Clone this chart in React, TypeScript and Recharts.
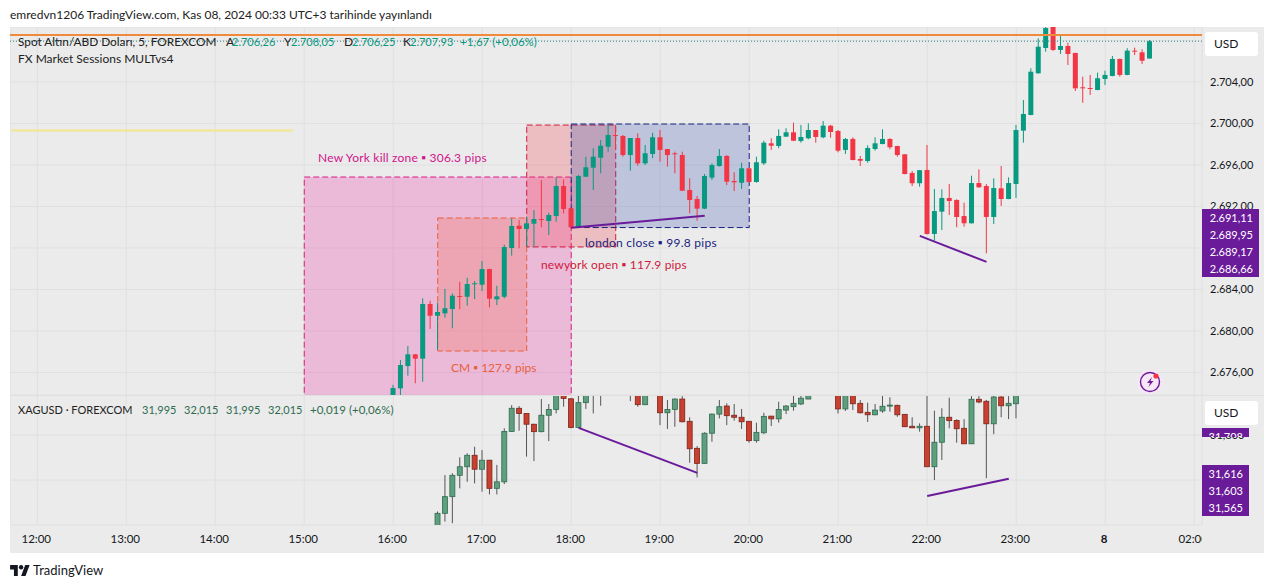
import { ComposedChart, Bar, XAxis, YAxis, CartesianGrid, ReferenceArea, ReferenceLine } from 'recharts'

// one slot per 5 minute bar, 11:45 to 01:00
const startSlot = 11 * 60 + 45
const slotCount = 160
const categories = Array.from({ length: slotCount }, (_, i) => {
  const m = (startSlot + i * 5) % 1440
  return String(Math.floor(m / 60)).padStart(2, '0') + ':' + String(m % 60).padStart(2, '0')
})
const hourTicks = ['12:00', '13:00', '14:00', '15:00', '16:00', '17:00', '18:00', '19:00', '20:00', '21:00', '22:00', '23:00', '00:00', '01:00']
const hourLabels = ['12:00', '13:00', '14:00', '15:00', '16:00', '17:00', '18:00', '19:00', '20:00', '21:00', '22:00', '23:00', '8', '02:00']
const goldTicks = [2676, 2680, 2684, 2688, 2692, 2696, 2700, 2704, 2708]
const goldTickLabels = [2676, 2680, 2684, 2692, 2696, 2700, 2704]
const silverTicks = [31.6, 31.8]
const silverTickLabels = [31.8]

// gold bars start at 16:00, one row per 5 minutes: open, high, low, close
const goldStart = '16:00'
const goldOpen = [2673.7, 2674.47, 2676.62, 2677.75, 2677.33, 2682.6, 2681.47, 2681.7, 2682.12, 2683.37, 2683.3, 2684.5, 2684.46, 2685.97, 2683.05, 2683.3, 2688, 2690.15, 2689.83, 2690.34, 2690.79, 2690.6, 2691.08, 2693.97, 2691.83, 2690.05, 2694.87, 2695.74, 2696.7, 2697.76, 2698.89, 2698.8, 2696.96, 2698.6, 2696.16, 2697.06, 2698.67, 2697.54, 2697.13, 2696.96, 2693.59, 2692.72, 2691.79, 2694.78, 2695.9, 2696.87, 2694.46, 2694.29, 2695.68, 2694.36, 2696.16, 2698.09, 2697.83, 2698.73, 2699.15, 2698.31, 2698.57, 2699.37, 2698.67, 2699.79, 2699.28, 2697.45, 2698.51, 2696.58, 2696.38, 2697.54, 2698.02, 2698.51, 2697.83, 2697.03, 2695.23, 2694.24, 2695.52, 2689.35, 2691.5, 2692.82, 2692.63, 2691.08, 2690.38, 2694.26, 2693.97, 2690.99, 2693.75, 2692.72, 2694.17, 2699.31, 2700.82, 2704.84, 2707.28, 2709.5, 2707.09, 2707.47, 2706.8, 2703.49, 2703.42, 2703.23, 2704.29, 2704.58, 2706.22, 2704.68, 2707.02, 2706.86, 2706.26]
const goldHigh = [2674.8, 2677.2, 2678.55, 2677.78, 2683.15, 2682.92, 2682.73, 2684.05, 2683.63, 2684.75, 2685.13, 2684.82, 2686.74, 2686, 2684.36, 2688.32, 2690.86, 2690.7, 2691.02, 2691.66, 2694.55, 2691.4, 2694.81, 2694.62, 2691.9, 2695.04, 2696.8, 2697.61, 2698.41, 2699.86, 2699.86, 2698.89, 2698.6, 2699.06, 2697.93, 2699.11, 2699.37, 2697.54, 2697.28, 2697.28, 2694.72, 2693.01, 2695.13, 2696.16, 2697.54, 2696.96, 2695.3, 2696.22, 2695.7, 2696.8, 2698.34, 2698.57, 2699.44, 2699.54, 2700.08, 2699.86, 2700.02, 2699.37, 2700.24, 2699.86, 2699.37, 2698.6, 2698.67, 2696.87, 2697.9, 2698.67, 2699.44, 2698.57, 2697.85, 2697.03, 2695.42, 2695.52, 2697.93, 2693.69, 2693.66, 2694.17, 2692.69, 2692.37, 2694.97, 2695.58, 2694.17, 2694.72, 2695.9, 2694.81, 2699.86, 2702.27, 2705.32, 2708.21, 2709.6, 2709.9, 2708.6, 2707.79, 2706.8, 2704.51, 2704.68, 2704.9, 2705.09, 2706.51, 2706.25, 2707.25, 2707.31, 2707.15, 2708.05]
const goldLow = [2673.4, 2673.6, 2675.69, 2674.96, 2675.11, 2680.19, 2678.17, 2681.28, 2680.26, 2682.09, 2682.44, 2683.08, 2683.85, 2682.28, 2682.5, 2683.15, 2687.26, 2687.97, 2688.12, 2688.12, 2690, 2689.25, 2690.53, 2691.34, 2689.83, 2690, 2694.84, 2693.59, 2695.2, 2697.28, 2697.45, 2696.8, 2695.45, 2695.93, 2696, 2696.65, 2696.32, 2695.84, 2695.2, 2693.49, 2691.34, 2690.63, 2691.75, 2694.55, 2695.84, 2694.07, 2693.49, 2693.69, 2694.3, 2694.29, 2696, 2697.45, 2697.61, 2698.73, 2698.3, 2698.15, 2698.48, 2698.15, 2698.57, 2698.63, 2697.22, 2697.06, 2696.45, 2695.9, 2696.22, 2697.38, 2698, 2697.51, 2696.8, 2695.1, 2693.97, 2693.91, 2689.3, 2688.7, 2689.73, 2691.18, 2690, 2690.05, 2690.35, 2693.8, 2687.49, 2690.31, 2692.05, 2692.7, 2692.82, 2698.15, 2700.8, 2704.8, 2706.92, 2706.99, 2706.7, 2705.64, 2703.13, 2702, 2702.75, 2703.2, 2703.71, 2704.55, 2704.51, 2704.65, 2706.6, 2705.74, 2706.25]
const goldClose = [2674.5, 2676.72, 2677.75, 2677.33, 2682.6, 2681.47, 2681.83, 2682.19, 2683.4, 2683.3, 2684.53, 2684.6, 2685.97, 2683.11, 2683.34, 2688.09, 2690.12, 2689.83, 2690.38, 2690.79, 2690.73, 2691.18, 2693.97, 2691.76, 2690, 2694.94, 2695.78, 2696.8, 2697.86, 2698.89, 2698.82, 2696.96, 2698.6, 2696.16, 2697.13, 2698.67, 2697.45, 2696.96, 2697.06, 2693.52, 2692.63, 2691.79, 2694.94, 2696, 2696.87, 2694.39, 2694.33, 2695.68, 2694.36, 2696.26, 2698.15, 2697.86, 2698.8, 2699.15, 2698.34, 2698.7, 2699.37, 2698.7, 2699.79, 2699.18, 2697.38, 2698.51, 2696.48, 2696.41, 2697.64, 2698.09, 2698.51, 2697.71, 2696.96, 2695.13, 2694.24, 2695.5, 2689.35, 2691.56, 2692.82, 2692.53, 2690.99, 2690.38, 2694.26, 2693.85, 2690.99, 2693.78, 2692.72, 2694.26, 2699.37, 2700.92, 2704.99, 2707.4, 2709.2, 2707.09, 2707.47, 2706.7, 2703.39, 2703.39, 2703.33, 2704.36, 2704.68, 2706.22, 2704.68, 2707.02, 2706.96, 2706.05, 2707.93]

// silver bars start at 16:30; null where the bar sits above the pane
const silverStart = '16:30'
const silverOpen = [31.38, 31.452, 31.526, 31.621, 31.659, 31.71, 31.648, 31.688, 31.563, 31.592, 31.816, 31.919, 31.896, 31.848, 31.815, 31.888, 31.914, 31.982, 31.961, 31.834, 31.944, 31.99, 32, null, null, null, 32.03, 31.99, 31.935, null, 32, 31.899, 31.914, 31.96, 31.861, 31.741, 31.674, 31.808, 31.893, 31.929, 31.888, 31.879, 31.861, 31.775, 31.81, 31.884, 31.872, 31.911, 31.926, 31.938, 31.96, null, null, null, 32, 31.916, 32, 31.941, 31.901, 31.89, 31.907, 31.93, 31.932, 31.892, 31.839, 31.832, 31.839, 31.659, 31.768, 31.879, 31.865, 31.83, 31.761, 31.959, 31.95, 31.85, 31.969, 31.93, 31.939]
const silverHigh = [31.46, 31.622, 31.63, 31.701, 31.719, 31.748, 31.733, 31.69, 31.667, 31.83, 31.933, 31.929, 31.896, 31.85, 31.96, 31.938, 31.99, 31.99, 31.965, 31.99, 32, 32.07, 32.05, null, null, null, 32.1, 32, 32, null, 32.02, 31.956, 31.963, 31.973, 31.879, 31.751, 31.812, 31.896, 31.956, 31.941, 31.938, 31.916, 31.862, 31.855, 31.899, 31.885, 31.948, 31.933, 31.975, 31.98, 31.985, null, null, null, 32.02, 32.02, 32.02, 31.956, 31.944, 31.938, 31.975, 31.968, 31.935, 31.893, 31.879, 31.852, 31.975, 31.908, 31.919, 31.966, 31.87, 31.871, 31.973, 31.973, 31.956, 31.975, 31.973, 31.973, 31.99]
const silverLow = [31.35, 31.415, 31.408, 31.563, 31.592, 31.585, 31.548, 31.536, 31.536, 31.582, 31.815, 31.819, 31.704, 31.684, 31.812, 31.773, 31.896, 31.926, 31.83, 31.831, 31.916, 31.896, 31.93, null, null, null, 31.951, 31.926, 31.933, null, 31.844, 31.827, 31.837, 31.856, 31.677, 31.612, 31.674, 31.77, 31.874, 31.844, 31.864, 31.827, 31.766, 31.766, 31.804, 31.84, 31.855, 31.893, 31.908, 31.933, 31.96, null, null, null, 31.896, 31.907, 31.911, 31.896, 31.858, 31.888, 31.899, 31.904, 31.881, 31.836, 31.832, 31.815, 31.659, 31.6, 31.689, 31.83, 31.766, 31.76, 31.76, 31.941, 31.608, 31.804, 31.879, 31.871, 31.874]
const silverClose = [31.452, 31.526, 31.621, 31.659, 31.71, 31.648, 31.688, 31.563, 31.592, 31.816, 31.919, 31.896, 31.848, 31.815, 31.888, 31.914, 31.982, 31.963, 31.834, 31.944, 31.985, 32.04, 32.03, null, null, null, 32.06, 31.935, 31.99, null, 31.899, 31.914, 31.96, 31.859, 31.739, 31.674, 31.808, 31.893, 31.926, 31.886, 31.879, 31.859, 31.775, 31.812, 31.883, 31.872, 31.914, 31.929, 31.941, 31.964, 31.975, null, null, null, 31.916, 32, 31.939, 31.899, 31.89, 31.911, 31.928, 31.933, 31.89, 31.837, 31.832, 31.839, 31.659, 31.768, 31.879, 31.864, 31.828, 31.761, 31.959, 31.947, 31.85, 31.969, 31.93, 31.941, 31.98]

const goldTags = ['2.691,11', '2.689,95', '2.689,17', '2.686,66']
const silverTags = ['31,616', '31,603', '31,565']
const silverHiddenTag = '31,708'

const GOLD_UP = '#089981'
const GOLD_DOWN = '#f23645'
const SILVER_UP = '#5f9f7f'
const SILVER_DOWN = '#c8402f'
const SILVER_TEXT = '#2f6b4f'
const PURPLE = '#6a1b9a'
const PANE_BG = '#ebebeb'
const GRID = '#e0e0e0'
const FONT = 'Lato, "Open Sans", sans-serif'

function buildRows(start: string, open: (number | null)[], high: (number | null)[], low: (number | null)[], close: (number | null)[]) {
  const first = categories.indexOf(start)
  return categories.map((t, i) => {
    const k = i - first
    if (k < 0 || k >= open.length || open[k] == null) return { t, range: null, open: null, close: null, high: null, low: null }
    return { t, range: [low[k], high[k]], open: open[k], close: close[k], high: high[k], low: low[k] }
  })
}

const goldRows = buildRows(goldStart, goldOpen, goldHigh, goldLow, goldClose)
const silverRows = buildRows(silverStart, silverOpen, silverHigh, silverLow, silverClose)

function Candle(props: any) {
  const { x, y, width, height, payload, up, down, wick, border } = props
  if (!payload || payload.open == null || !height) return null
  const { open, close, high, low } = payload
  const perUnit = height / (high - low)
  const top = y + (high - Math.max(open, close)) * perUnit
  const bodyH = Math.max(Math.abs(open - close) * perUnit, 1)
  const isUp = close >= open
  const cx = x + width / 2
  const fill = isUp ? up : down
  const bodyW = 5
  const edge = border ? (isUp ? '#2f6b4f' : '#7d241a') : fill
  return (
    <g>
      <line x1={cx} x2={cx} y1={y} y2={y + height} stroke={wick ?? fill} strokeWidth={1} />
      <rect x={cx - bodyW / 2} y={top} width={bodyW} height={bodyH} fill={fill} stroke={edge} strokeWidth={border ? 0.8 : 0} />
    </g>
  )
}

// session box, reference area coordinates run band edge to band edge so pull them to bar centres
function SessionBox(props: any) {
  const { x, y, width, height, fill, stroke } = props
  const half = 7.416 / 2
  return <rect x={x + half} y={y} width={width - half * 2} height={height} fill={fill} stroke={stroke} strokeWidth={1} strokeDasharray="6 3" />
}

function Note({ left, top, color, size = 12, spacing = 0, children }: { left: number; top: number; color: string; size?: number; spacing?: number; children: any }) {
  return <div style={{ position: 'absolute', left, top, color, fontSize: size, letterSpacing: spacing, lineHeight: '14px', whiteSpace: 'pre' }}>{children}</div>
}

function CurrencyBadge({ top }: { top: number }) {
  return (
    <div style={{ position: 'absolute', left: 1205, top, width: 53, height: 24, background: '#fff', borderRadius: 3, fontSize: 12, lineHeight: '24px', color: '#131722', textIndent: 9 }}>
      USD
    </div>
  )
}

function PriceTags({ top, width, items }: { top: number; width: number; items: string[] }) {
  return (
    <div style={{ position: 'absolute', left: 1202, top, width, background: PURPLE, color: '#fff', fontSize: 11, lineHeight: '17px', textAlign: 'right', paddingRight: 6, boxSizing: 'border-box' }}>
      {items.map((s) => (
        <div key={s}>{s}</div>
      ))}
    </div>
  )
}

const formatGold = (v: number) => {
  const s = v.toFixed(2).replace('.', ',')
  return s.slice(0, 1) + '.' + s.slice(1)
}

export default function App() {
  return (
    <div style={{ position: 'absolute', left: 0, top: 0, width: 1273, height: 588, background: '#fff', overflow: 'hidden', fontFamily: FONT, color: '#131722' }}>
      <div style={{ position: 'absolute', left: 10, top: 8, fontSize: 12, lineHeight: '14px', color: '#222' }}>
        emredvn1206 TradingView.com, Kas 08, 2024 00:33 UTC+3 tarihinde yayınlandı
      </div>

      <div style={{ position: 'absolute', left: 10, top: 27, width: 1254, height: 526, background: PANE_BG }} />

      {/* gold pane */}
      <div style={{ position: 'absolute', left: 10, top: 27 }}>
        <ComposedChart width={1254} height={368} data={goldRows} margin={{ top: 0, right: 0, bottom: 0, left: 0 }} barCategoryGap={0}>
          <CartesianGrid stroke={GRID} />
          <XAxis dataKey="t" type="category" hide ticks={hourTicks} interval={0} padding={{ left: 1.3, right: 4.1 }} />
          <YAxis
            orientation="right"
            width={62}
            domain={[2673.83, 2709.3]}
            allowDataOverflow
            ticks={goldTicks}
            axisLine={false}
            tickLine={false}
            interval={0}
            tick={(p: any) =>
              goldTickLabels.includes(p.payload.value) ? (
                <text x={p.x} y={p.y + 4} fontSize={11} fill="#131722" fontFamily={FONT}>
                  {formatGold(p.payload.value)}
                </text>
              ) : (
                <g />
              )
            }
          />
          <ReferenceArea x1="15:00" x2="18:00" y1={2664.2} y2={2694.84} ifOverflow="hidden" fill="rgba(240,30,160,0.24)" stroke="#d81b87" shape={<SessionBox />} />
          <ReferenceArea x1="16:30" x2="17:30" y1={2678.07} y2={2690.89} ifOverflow="hidden" fill="rgba(240,90,50,0.22)" stroke="#e8603a" shape={<SessionBox />} />
          <ReferenceArea x1="17:30" x2="18:30" y1={2688.1} y2={2699.85} ifOverflow="hidden" fill="rgba(242,54,69,0.25)" stroke="#d11a3c" shape={<SessionBox />} />
          <ReferenceArea x1="18:00" x2="20:00" y1={2689.97} y2={2699.95} ifOverflow="hidden" fill="rgba(50,80,170,0.25)" stroke="#1a237e" shape={<SessionBox />} />
          <ReferenceLine y={2707.93} stroke="#2a8a8f" strokeDasharray="1 2" />
          <ReferenceLine y={2708.53} stroke="#f08a3c" strokeWidth={2} />
          <ReferenceLine segment={[{ x: '11:45', y: 2699.33 }, { x: '14:55', y: 2699.33 }]} position="start" stroke="#f5e68c" strokeWidth={2} />
          <Bar dataKey="range" isAnimationActive={false} shape={<Candle up={GOLD_UP} down={GOLD_DOWN} />} />
          <ReferenceLine segment={[{ x: '18:00', y: 2689.95 }, { x: '19:30', y: 2691.11 }]} stroke={PURPLE} strokeWidth={2} />
          <ReferenceLine segment={[{ x: '21:55', y: 2689.17 }, { x: '22:40', y: 2686.66 }]} stroke={PURPLE} strokeWidth={2} />
        </ComposedChart>
      </div>

      {/* silver pane with the time axis */}
      <div style={{ position: 'absolute', left: 10, top: 395 }}>
        <ComposedChart width={1254} height={158} data={silverRows} margin={{ top: 0, right: 0, bottom: 0, left: 0 }} barCategoryGap={0}>
          <CartesianGrid stroke={GRID} />
          <XAxis
            dataKey="t"
            type="category"
            ticks={hourTicks}
            interval={0}
            height={28}
            axisLine={false}
            tickLine={false}
            padding={{ left: 1.3, right: 4.1 }}
            tick={(p: any) => {
              const i = hourTicks.indexOf(p.payload.value)
              const bold = hourLabels[i] === '8'
              return (
                <text x={p.x - 1} y={p.y + 10} textAnchor="middle" fontSize={11.5} fontWeight={bold ? 700 : 400} fill="#131722" fontFamily={FONT}>
                  {hourLabels[i]}
                </text>
              )
            }}
          />
          <YAxis
            orientation="right"
            width={62}
            domain={[31.4, 31.978]}
            allowDataOverflow
            ticks={silverTicks}
            axisLine={false}
            tickLine={false}
            interval={0}
            tick={(p: any) =>
              silverTickLabels.includes(p.payload.value) ? (
                <text x={p.x} y={p.y + 4} fontSize={11} fill="#131722" fontFamily={FONT}>
                  {p.payload.value.toFixed(3).replace('.', ',')}
                </text>
              ) : (
                <g />
              )
            }
          />
          <Bar dataKey="range" isAnimationActive={false} shape={<Candle up={SILVER_UP} down={SILVER_DOWN} wick="#555" border />} />
          <ReferenceLine segment={[{ x: '18:05', y: 31.832 }, { x: '19:25', y: 31.632 }]} stroke={PURPLE} strokeWidth={2} />
          <ReferenceLine segment={[{ x: '22:00', y: 31.529 }, { x: '22:55', y: 31.606 }]} stroke={PURPLE} strokeWidth={2} />
        </ComposedChart>
      </div>

      {/* cuts the last time label at the price scale */}
      <div style={{ position: 'absolute', left: 1202, top: 526, width: 62, height: 27, background: PANE_BG }} />
      <div style={{ position: 'absolute', left: 10, top: 395, width: 1254, height: 1, background: GRID }} />

      <Note left={18} top={35} color="#222" size={11.8}>Spot Altın/ABD Doları, 5, FOREXCOM</Note>
      <Note left={226} top={35} color="#222">A</Note>
      <Note left={232} top={35} color={GOLD_UP} size={11}>2.706,26</Note>
      <Note left={284} top={35} color="#222">Y</Note>
      <Note left={291} top={35} color={GOLD_UP} size={11}>2.708,05</Note>
      <Note left={344} top={35} color="#222">D</Note>
      <Note left={352} top={35} color={GOLD_UP} size={11}>2.706,25</Note>
      <Note left={403} top={35} color="#222">K</Note>
      <Note left={410} top={35} color={GOLD_UP} size={11}>2.707,93</Note>
      <Note left={460} top={35} color={GOLD_UP} size={11.5}>+1,67 (+0,06%)</Note>
      <Note left={18} top={52} color="#222">FX Market Sessions MULTvs4</Note>

      <Note left={18} top={403} color="#222" size={11}>XAGUSD · FOREXCOM</Note>
      <Note left={142} top={403} color={SILVER_TEXT} size={11}>31,995</Note>
      <Note left={184} top={403} color={SILVER_TEXT} size={11}>32,015</Note>
      <Note left={226} top={403} color={SILVER_TEXT} size={11}>31,995</Note>
      <Note left={268} top={403} color={SILVER_TEXT} size={11}>32,015</Note>
      <Note left={310} top={403} color={SILVER_TEXT} size={11.5}>+0,019 (+0,06%)</Note>

      <Note left={318} top={151} color="#d0148c" spacing={0.2}>New York kill zone ▪ 306.3 pips</Note>
      <Note left={585} top={236} color="#1a237e" spacing={0.25}>london close ▪ 99.8 pips</Note>
      <Note left={541} top={258} color="#d11a3c" spacing={0.17}>newyork open ▪ 117.9 pips</Note>
      <Note left={451} top={361} color="#e8603a">CM ▪ 127.9 pips</Note>

      <PriceTags top={209} width={57} items={goldTags} />
      <div style={{ position: 'absolute', left: 1202, top: 428, width: 47, height: 9, overflow: 'hidden', background: PURPLE, color: '#fff', fontSize: 11, lineHeight: '17px', textAlign: 'right', paddingRight: 6, boxSizing: 'border-box' }}>
        {silverHiddenTag}
      </div>
      <PriceTags top={465} width={47} items={silverTags} />
      <CurrencyBadge top={32} />
      <CurrencyBadge top={401} />

      <svg style={{ position: 'absolute', left: 1137, top: 369 }} width={26} height={26} viewBox="0 0 26 26">
        <circle cx={13} cy={13} r={12.5} fill="#f6e6f6" />
        <circle cx={13} cy={13} r={9.5} fill="none" stroke={PURPLE} strokeWidth={1.4} />
        <path d="M15 8 L10 14 H13 L11.5 18 L16.5 12 H13.5 Z" fill={PURPLE} />
        <circle cx={19} cy={7} r={2.6} fill="#f23645" />
      </svg>

      <svg style={{ position: 'absolute', left: 10, top: 565 }} width={20} height={11} viewBox="0 0 36 20">
        <path d="M14 20H7V8H0V0h14v20zM28 20h-8l7.5-20h8L28 20z" fill="#131722" />
        <circle cx={20} cy={4} r={4} fill="#131722" />
      </svg>
      <div style={{ position: 'absolute', left: 33, top: 563, fontSize: 13, lineHeight: '15px', color: '#131722' }}>TradingView</div>
    </div>
  )
}
